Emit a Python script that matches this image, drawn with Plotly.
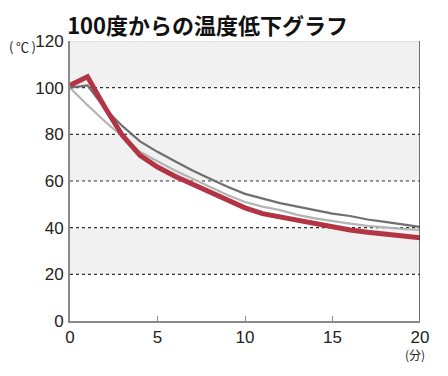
import plotly.graph_objects as go

minutes = list(range(0, 21))
red_series = [101, 104.7, 91.5, 79.5, 71, 66, 62, 58.5, 55, 52, 48.5, 46, 44.5, 43, 41.5, 40, 39, 38, 37.2, 36.5, 35.7]
dark_series = [100, 101, 91, 83.5, 77, 72.5, 68.5, 64.5, 61, 57.5, 54.5, 52.5, 50.5, 49, 47.5, 46, 45, 43.5, 42.5, 41.5, 40.3]
light_series = [100, 92.5, 85.5, 79, 72.5, 68.5, 64.5, 61, 57.5, 54, 51, 49, 47.5, 45.5, 44, 42.7, 41.7, 40.8, 40, 39.5, 39]
y_ticks = [0, 20, 40, 60, 80, 100, 120]
x_ticks = [0, 5, 10, 15, 20]
title_text = "100度からの温度低下グラフ"

fig = go.Figure()

# alternating bands
for y0, y1 in [(100, 120), (60, 80), (20, 40)]:
    fig.add_shape(type="rect", xref="x", yref="y", x0=0, x1=20, y0=y0, y1=y1,
                  fillcolor="#f1f1f1", line_width=0, layer="below")
for gy in [20, 40, 60, 80, 100]:
    fig.add_shape(type="line", xref="x", yref="y", x0=0, x1=20, y0=gy, y1=gy,
                  line=dict(color="#333333", width=1.2, dash="dot"), layer="below")
fig.add_shape(type="line", xref="x", yref="y", x0=0, x1=20, y0=120, y1=120,
              line=dict(color="#d0d0d0", width=1), layer="below")
fig.add_shape(type="line", xref="x", yref="y", x0=20, x1=20, y0=0, y1=120,
              line=dict(color="#444444", width=1.5))

fig.add_trace(go.Scatter(x=minutes, y=light_series, mode="lines",
                         line=dict(color="#b4b4b4", width=2.2), hoverinfo="skip"))
fig.add_trace(go.Scatter(x=minutes, y=dark_series, mode="lines",
                         line=dict(color="#6f6f6f", width=2.2), hoverinfo="skip"))
fig.add_trace(go.Scatter(x=minutes, y=red_series, mode="lines",
                         line=dict(color="#b33444", width=5), hoverinfo="skip"))

fig.update_layout(
    width=448, height=376,
    margin=dict(l=62, r=36, t=33, b=63),
    paper_bgcolor="white", plot_bgcolor="white",
    showlegend=False,
    font=dict(family="Liberation Sans, Noto Sans CJK JP", color="#222222"),
    title=dict(text="<b>" + title_text + "</b>", x=0.132, xanchor="left",
               y=0.952, yanchor="middle",
               font=dict(family="Noto Sans CJK JP", size=22, color="#111111")),
)
fig.update_xaxes(range=[0, 20], tickvals=x_ticks, ticktext=[str(v) for v in x_ticks],
                 showgrid=False, zeroline=False, showline=True, linecolor="#8a8a8a",
                 linewidth=2, ticks="inside", ticklen=5, tickcolor="#8a8a8a",
                 tickfont=dict(size=17, color="#222222"))
fig.update_yaxes(range=[0, 120], tickvals=y_ticks, ticktext=[str(v) for v in y_ticks],
                 showgrid=False, zeroline=False, showline=True, linecolor="#8a8a8a",
                 linewidth=2, ticks="", ticklabelstandoff=1,
                 tickfont=dict(size=17, color="#222222"))

fig.add_annotation(text="(\u2009℃\u2009)", xref="paper", yref="paper", x=0, y=1.0,
                   xanchor="right", yanchor="middle", xshift=-32, yshift=-5,
                   showarrow=False,
                   font=dict(size=13, color="#222222", family="Noto Sans CJK JP"))
fig.add_annotation(text="(分)", xref="paper", yref="paper", x=1.0, y=0,
                   xanchor="center", yanchor="middle", xshift=-5, yshift=-33,
                   showarrow=False,
                   font=dict(size=12, color="#222222", family="Noto Sans CJK JP"))

fig.write_html("out.html")
